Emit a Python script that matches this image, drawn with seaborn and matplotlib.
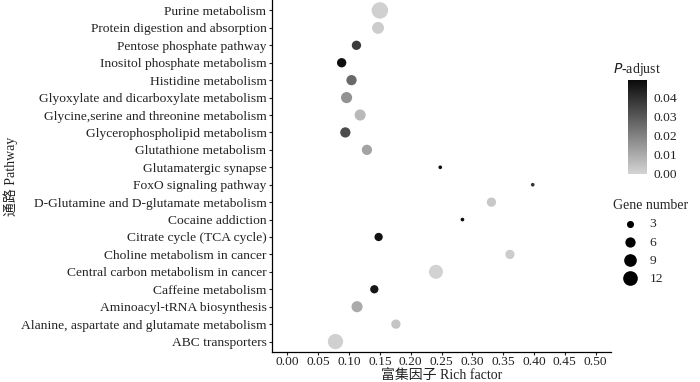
import matplotlib
matplotlib.use("Agg")
import matplotlib.pyplot as plt
from matplotlib.colors import LinearSegmentedColormap, Normalize
from matplotlib.cm import ScalarMappable
import seaborn as sns
import pandas as pd

# enrichment results, listed top to bottom as in the figure
pathways = [
    "Purine metabolism",
    "Protein digestion and absorption",
    "Pentose phosphate pathway",
    "Inositol phosphate metabolism",
    "Histidine metabolism",
    "Glyoxylate and dicarboxylate metabolism",
    "Glycine,serine and threonine metabolism",
    "Glycerophospholipid metabolism",
    "Glutathione metabolism",
    "Glutamatergic synapse",
    "FoxO signaling pathway",
    "D-Glutamine and D-glutamate metabolism",
    "Cocaine addiction",
    "Citrate cycle (TCA cycle)",
    "Choline metabolism in cancer",
    "Central carbon metabolism in cancer",
    "Caffeine metabolism",
    "Aminoacyl-tRNA biosynthesis",
    "Alanine, aspartate and glutamate metabolism",
    "ABC transporters",
]
rich_factor = [0.150, 0.147, 0.112, 0.088, 0.104, 0.096, 0.118, 0.094, 0.129, 0.248,
               0.398, 0.331, 0.284, 0.148, 0.361, 0.241, 0.141, 0.113, 0.176, 0.078]
gene_number = [15, 8, 5, 5, 6, 7, 7, 6, 6, 1,
               1, 5, 1, 4, 5, 11, 4, 7, 5, 13]
p_adjust = [0.001, 0.002, 0.037, 0.048, 0.026, 0.016, 0.0066, 0.033, 0.012, 0.048,
            0.039, 0.003, 0.048, 0.047, 0.002, 0.0005, 0.046, 0.010, 0.0037, 0.001]

x_ticks = [0.00, 0.05, 0.10, 0.15, 0.20, 0.25, 0.30, 0.35, 0.40, 0.45, 0.50]
padj_ticks = [0.00, 0.01, 0.02, 0.03, 0.04]
size_breaks = [3, 6, 9, 12]

df = pd.DataFrame({"pathway": pathways, "rich": rich_factor,
                   "genes": gene_number, "padj": p_adjust})

sns.set_theme(style="white")
plt.rcParams["font.family"] = ["Liberation Serif", "Noto Sans CJK SC"]
plt.rcParams["axes.unicode_minus"] = False

cmap = LinearSegmentedColormap.from_list("grey_black", ["#d4d4d4", "#0a0a0a"])
pnorm = Normalize(0, 0.049)
size_rng = (7.0, 140.0)
size_norm = (1, 15)

fig = plt.figure(figsize=(7.0, 3.82), dpi=100)
ax = fig.add_axes([272 / 700, 1 - 352 / 382, (611 - 272) / 700, 352 / 382])

sns.scatterplot(data=df, x="rich", y="pathway", hue="padj", size="genes",
                palette=cmap, hue_norm=pnorm, sizes=size_rng, size_norm=size_norm,
                linewidth=0, legend=False, ax=ax)

ax.set_xlim(-0.025, 0.525)
ax.set_ylim(len(pathways) - 0.4, -0.6)
ax.set_xticks(x_ticks)
ax.set_xticklabels([f"{t:.2f}" for t in x_ticks])
ax.tick_params(axis="both", labelsize=9.7, colors="#222222", length=2.5, width=0.8,
               pad=1.5, left=True, bottom=True)
ax.tick_params(axis="x", pad=0.8, length=2)
for s in ["top", "right"]:
    ax.spines[s].set_visible(False)
for s in ["left", "bottom"]:
    ax.spines[s].set_color("black")
    ax.spines[s].set_linewidth(0.9)
ax.set_xlabel("富集因子 Rich factor", fontsize=10, color="#222222")
ax.set_ylabel("通路 Pathway", fontsize=10, color="#222222")
ax.xaxis.label.set_va("center")
ax.yaxis.label.set_va("center")
ax.xaxis.set_label_coords(0.5, (352 - 375.5) / 352)
ax.yaxis.set_label_coords((11 - 272) / 339, 0.5)
ax.grid(False)

# colour bar for P-adjust
cax = fig.add_axes([628 / 700, 1 - 174 / 382, 19 / 700, 94 / 382])
sm = ScalarMappable(norm=pnorm, cmap=cmap)
cb = fig.colorbar(sm, cax=cax)
cb.outline.set_visible(False)
cb.set_ticks(padj_ticks)
cb.set_ticklabels([f"{t:.2f}" for t in padj_ticks])
cax.tick_params(direction="in", color="white", length=3, width=0.6,
                labelsize=9.7, labelcolor="#222222", pad=5, left=True, right=True)
fig.text(613 / 700, 1 - 70 / 382, "$\\it{P}$-adjust", fontsize=10,
         color="#222222", va="center", ha="left")

# size legend for gene number
def area(n):
    lo, hi = size_norm
    return size_rng[0] + (n - lo) / (hi - lo) * (size_rng[1] - size_rng[0])

handles = [ax.scatter([], [], s=area(n), color="black", linewidth=0) for n in size_breaks]
leg = fig.legend(handles, [str(n) for n in size_breaks], title="Gene number",
                 loc="upper left", bbox_to_anchor=(608 / 700, 1 - 194 / 382),
                 frameon=False, fontsize=9.7, title_fontsize=10,
                 labelspacing=0.42, handletextpad=0.3, handlelength=2.4,
                 borderaxespad=0)
leg._legend_box.align = "left"

fig.savefig("out.png", dpi=100)
